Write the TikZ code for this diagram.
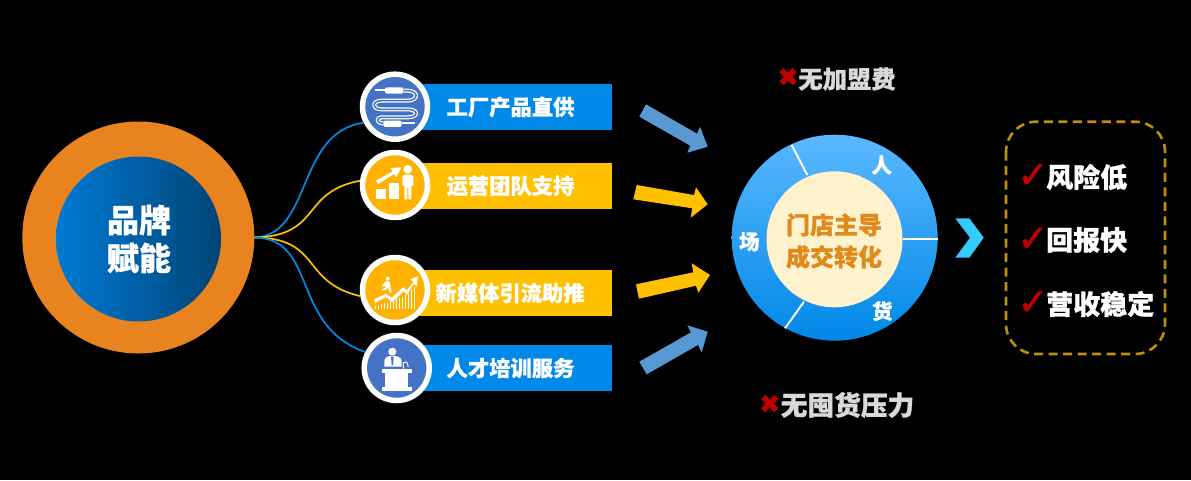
\documentclass[tikz,border=0pt]{standalone}
\usepackage{fontspec}
\setmainfont[BoldFeatures={FakeBold=0.8}]{Noto Sans CJK SC}
\newfontfamily\symfont[FakeBold=1.2]{DejaVu Sans}
\definecolor{barblue}{HTML}{0089E8}
\definecolor{baryellow}{HTML}{FFC000}
\definecolor{iconblue}{HTML}{4472C4}
\definecolor{iconyellow}{HTML}{FFB300}
\definecolor{ringorange}{HTML}{E98320}
\definecolor{arrowblue}{HTML}{5898D3}
\definecolor{cream}{HTML}{FFF2CC}
\definecolor{darkgold}{HTML}{BF9000}
\definecolor{checkred}{HTML}{C00000}
\definecolor{txtorange}{HTML}{E08A1E}
\definecolor{softgray}{HTML}{D9D9D9}
\definecolor{chev}{HTML}{33CCFF}
\tikzset{
  barbox/.style={rectangle,minimum width=192pt,minimum height=46pt,inner sep=0pt,outer sep=0pt},
  bartext/.style={text=white,font=\bfseries\fontsize{21.3}{21.3}\selectfont,inner sep=0pt},
  iconring/.style={circle,draw=white,line width=5.5pt,minimum size=65pt,inner sep=0pt,outer sep=2.75pt},
  linkline/.style={line width=1.7pt},
  bigarrow/.style={draw=none},
  keytext/.style={text=white,font=\bfseries\fontsize{20.5}{20.5}\selectfont,inner sep=0pt},
  sector/.style={draw=white,line width=2pt},
  benefit/.style={text=white,font=\bfseries\fontsize{27}{27}\selectfont,inner sep=0pt,anchor=west},
  checkmark/.style={text=checkred,font=\symfont\fontsize{37}{37}\selectfont,inner sep=0pt},
  nofee/.style={text=softgray,font=\bfseries\fontsize{24.3}{24.3}\selectfont,inner sep=0pt},
  crossmark/.style={text=checkred,font=\symfont\fontsize{25}{25}\selectfont,inner sep=0pt},
  glyph/.style={fill=white,draw=none}
}
\begin{document}
\begin{tikzpicture}[x=1pt,y=-1pt]
\path[use as bounding box,fill=black] (0,0) rectangle (1191,480);
% brand
\node[circle,fill=ringorange,minimum size=232pt,inner sep=0pt,outer sep=0pt] (brand) at (138.3,237.5) {};
\node[circle,minimum size=165pt,inner sep=0pt,
  left color={rgb,255:red,0;green,122;blue,212},middle color={rgb,255:red,0;green,105;blue,185},right color={rgb,255:red,0;green,68;blue,118}] (core) at (138.5,239) {};
\node[text=white,font=\bfseries\fontsize{32}{38}\selectfont,align=center,inner sep=0pt] (brandtxt) at (139,239) {品牌\\赋能};
% bars
\node[barbox,fill=barblue] (b1) at (516,107) {};
\node[barbox,fill=baryellow] (b2) at (516,186) {};
\node[barbox,fill=baryellow] (b3) at (516,293) {};
\node[barbox,fill=barblue] (b4) at (516,368) {};
\node[bartext] (t1) at (510.5,107) {工厂产品直供};
\node[bartext] (t2) at (510.5,186) {运营团队支持};
\node[bartext] (t3) at (510,293) {新媒体引流助推};
\node[bartext] (t4) at (510.5,368) {人才培训服务};
% icon discs
\node[iconring,fill=iconblue] (i1) at (395,106.7) {};
\node[iconring,fill=iconyellow] (i2) at (395,185) {};
\node[iconring,fill=iconyellow] (i3) at (395,290) {};
\node[iconring,fill=iconblue] (i4) at (396.7,368) {};
% connectors
\draw[linkline,draw=barblue] (brand.east) .. controls (312,236) and (296,132) .. (i1.207);
\draw[linkline,draw=baryellow] (brand.east) .. controls (322,236) and (300,192) .. (i2.173);
\draw[linkline,draw=baryellow] (brand.east) .. controls (322,238) and (300,282) .. (i3.190);
\draw[linkline,draw=barblue] (brand.east) .. controls (318,238) and (290,326) .. (i4.153);
% icon 1: cable
\begin{scope}[shift={(350,60)},x=0.3333pt,y=-0.3333pt]
  \fill[white,rounded corners=2pt] (105,82) rectangle (160,101);
  \fill[white,rounded corners=2pt] (100,182) rectangle (155,201);
  \draw[white,line width=1.8pt] (75,90) -- (105,90);
  \draw[white,line width=1.8pt] (155,190) -- (195,190);
  \draw[white,line width=4pt,line join=round] (160,92) -- (172,92) .. controls (207,92) and (207,122) .. (172,122) -- (95,122) .. controls (65,122) and (65,148) .. (95,148) -- (172,148) .. controls (207,148) and (207,172) .. (172,172) -- (95,172) .. controls (78,172) and (78,190) .. (100,190);
  \draw[iconblue,line width=1.5pt] (160,92) -- (172,92) .. controls (207,92) and (207,122) .. (172,122) -- (95,122) .. controls (65,122) and (65,148) .. (95,148) -- (172,148) .. controls (207,148) and (207,172) .. (172,172) -- (95,172) .. controls (78,172) and (78,190) .. (100,190);
\end{scope}
% icon 2: growth and person
\begin{scope}[shift={(350,60)},x=0.3333pt,y=-0.3333pt]
  \fill[white] (77,387) rectangle (107,418);
  \fill[white] (117,370) rectangle (147,418);
  \fill[white] (78,362) -- (128,334) -- (122,324) -- (155,322) -- (138,352) -- (133,342) -- (84,372) -- cycle;
  \fill[white] (173,328) circle (13);
  \fill[white] (165,344) -- (182,344) .. controls (188,344) and (190,348) .. (190,354) -- (190,378) -- (184,378) -- (184,418) -- (175,418) -- (175,382) -- (172,382) -- (172,418) -- (163,418) -- (163,378) -- (157,378) -- (157,354) .. controls (157,348) and (160,344) .. (165,344) -- cycle;
\end{scope}
% icon 3: runner on a rising arrow
\begin{scope}[shift={(350,240)},x=0.3333pt,y=-0.3333pt]
  \foreach \bx/\by in {75/198,84/195,93/192,102/190,111/188,120/184,129/180,138/177,147/174,156/170,165/164,174/158,183/150,192/142}
    \fill[white] (\bx,\by) rectangle ++(4,208-\by);
  \fill[white,draw=iconyellow,line width=0.3pt] (70,178) -- (108,160) -- (125,172) -- (160,140) -- (170,150) -- (190,125) -- (178,118) -- (205,108) -- (200,142) -- (192,132) -- (172,165) -- (160,155) -- (127,188) -- (108,172) -- (76,190) -- cycle;
  \fill[white] (113,116) circle (6);
  \fill[white] (108,124) -- (118,124) -- (122,142) -- (125,158) -- (119,158) -- (114,144) -- (106,150) -- (97,152) -- (97,147) -- (105,144) -- (108,136) -- (100,140) -- (96,136) -- cycle;
\end{scope}
% icon 4: speaker at a lectern
\begin{scope}[shift={(350,240)},x=0.3333pt,y=-0.3333pt]
  \fill[white] (127,335) circle (12);
  \fill[white] (103,380) -- (103,362) .. controls (103,354) and (110,350) .. (120,348) -- (135,348) .. controls (146,350) and (155,354) .. (155,362) -- (155,380) -- cycle;
  \fill[iconblue] (123,350) -- (131,350) -- (129,376) -- (125,376) -- cycle;
  \draw[white,line width=1pt] (160,386) -- (160,368) -- (170,366) -- (175,380);
  \fill[white] (95,388) rectangle (187,400);
  \fill[white] (105,400) rectangle (175,440);
  \fill[white] (95,440) rectangle (187,452);
\end{scope}
% arrows
\fill[arrowblue,bigarrow] (646,104.3) -- (697,133.7) -- (700,126.7) -- (707.7,146.7) -- (687.3,152.7) -- (690.3,145.7) -- (639.3,116.7) -- cycle;
\fill[baryellow,bigarrow] (636.7,185) -- (694,195) -- (696,187.3) -- (707.7,204.3) -- (690.7,217.7) -- (692.3,208.3) -- (633.3,199.3) -- cycle;
\fill[baryellow,bigarrow] (636,284.3) -- (693.3,272.3) -- (691.7,263.3) -- (710,275) -- (698.3,292.7) -- (696,285.7) -- (639,298.7) -- cycle;
\fill[arrowblue,bigarrow] (639.3,361.7) -- (691,332.3) -- (687.3,325.3) -- (707.7,331.7) -- (701.7,352.3) -- (698,345) -- (646.7,374.3) -- cycle;
% wheel
\node[circle,minimum size=206pt,inner sep=0pt,outer sep=0pt,top color={rgb,255:red,91;green,184;blue,255},middle color={rgb,255:red,60;green,170;blue,250},bottom color={rgb,255:red,0;green,136;blue,232}] (wheel) at (834.7,237.7) {};
\node[circle,fill=cream,minimum size=136pt,inner sep=0pt,outer sep=0pt] (hub) at (834.5,239.3) {};
\draw[sector] (791.7,145) -- (807.3,175);
\draw[sector] (902.7,239.3) -- (938,239.3);
\draw[sector] (804,301.7) -- (785,328.3);
\node[keytext] (kren) at (881.7,165) {人};
\node[keytext] (kchang) at (749.3,241.7) {场};
\node[keytext] (khuo) at (882.3,311) {货};
\node[text=txtorange,font=\bfseries\fontsize{24}{32}\selectfont,align=center,inner sep=0pt] (hubtxt) at (834,241) {门店主导\\成交转化};
% chevron
\fill[chev] (955.3,218.3) -- (969.3,218.3) -- (983.7,237.7) -- (969.3,257.7) -- (955.3,257.7) -- (970,237.7) -- cycle;
% no-fee notes
\node[crossmark] (x1) at (788,77) {✖};
\node[nofee] (n1) at (847,79) {无加盟费};
\node[crossmark] (x2) at (769.7,404) {✖};
\node[nofee,font=\bfseries\fontsize{26.7}{26.7}\selectfont] (n2) at (847.5,405) {无囤货压力};
% benefit box
\draw[darkgold,line width=2.6pt,dash pattern=on 9pt off 5.5pt,rounded corners=30pt] (1006,121.7) rectangle (1165,354);
\node[checkmark] (c1) at (1033,176) {✓};
\node[checkmark] (c2) at (1033,239.5) {✓};
\node[checkmark] (c3) at (1033,303) {✓};
\node[benefit] (r1) at (1046,177) {风险低};
\node[benefit] (r2) at (1046,240) {回报快};
\node[benefit] (r3) at (1046,304) {营收稳定};
\end{tikzpicture}
\end{document}
